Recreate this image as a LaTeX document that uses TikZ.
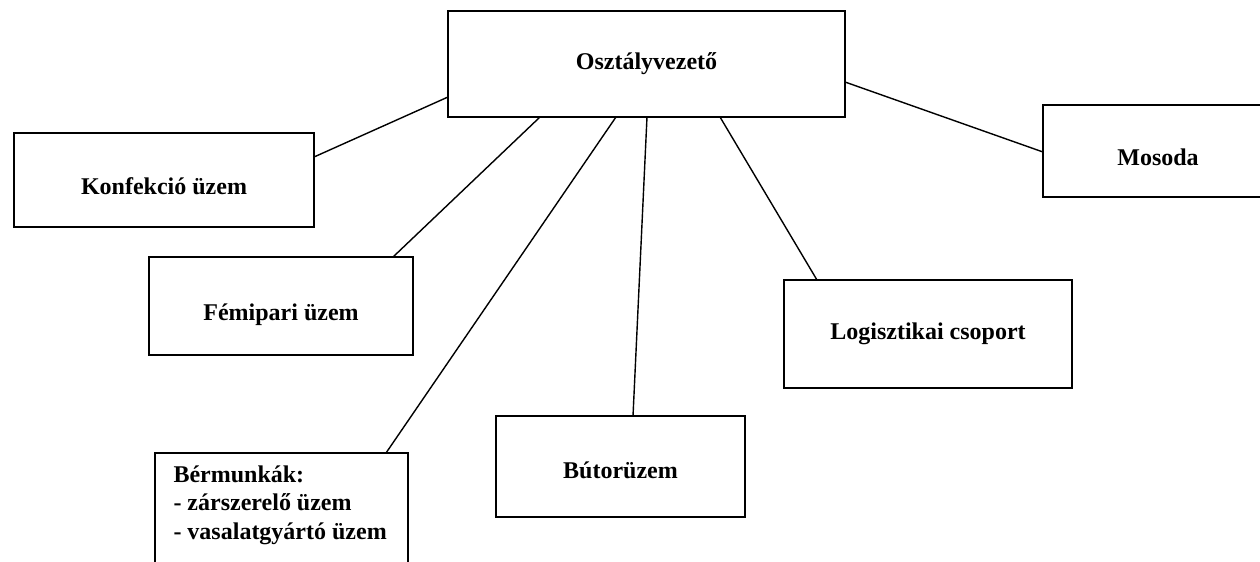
\documentclass[tikz,border=0pt]{standalone}
\usepackage{fontspec}
\setmainfont{Liberation Serif}
\usetikzlibrary{calc}

\tikzset{every picture/.style={line width=0.75pt}}
\tikzset{
  unitbox/.style={draw, line width=1.3pt, inner sep=0pt, outer sep=0pt,
    font=\fontsize{18}{21.5}\selectfont\bfseries},
  lowtext/.style={text height=#1, text depth=0pt},
  unitline/.style={line width=1.05pt}
}

\begin{document}
\begin{tikzpicture}[x=0.75pt,y=0.75pt,yscale=-1,xscale=1]
		%set diagram size: 1260 x 561
		\clip (0,0) rectangle (1260,561);
		
		%Shape: Rectangle [Osztályvezető]
		\node [unitbox, minimum width=297.75pt, minimum height=79.5pt] (osztaly) at (646.5,64) {Osztályvezető};
		%Shape: Rectangle [Konfekció üzem]
		\node [unitbox, lowtext=22pt, minimum width=225pt, minimum height=70.5pt] (konfekcio) at (164,180) {Konfekció üzem};
		%Shape: Rectangle [Mosoda]
		\node [unitbox, lowtext=22pt, minimum width=172.5pt, minimum height=69pt] (mosoda) at (1158,151) {Mosoda};
		%Shape: Rectangle [Fémipari üzem]
		\node [unitbox, lowtext=21pt, minimum width=198pt, minimum height=73.5pt] (femipari) at (281,306) {Fémipari üzem};
		%Shape: Rectangle [Logisztikai csoport]
		\node [unitbox, minimum width=216pt, minimum height=81pt] (logisztika) at (928,334) {Logisztikai csoport};
		%Shape: Rectangle [Bútorüzem]
		\node [unitbox, lowtext=18pt, minimum width=186.75pt, minimum height=75.75pt] (butor) at (620.5,466.5) {Bútorüzem};
		%Shape: Rectangle [Bérmunkák]
		\node [unitbox, minimum width=189.75pt, minimum height=97.5pt] (bermunka) at (281.5,518) {};
		% Text Node
		\node [anchor=north west, inner sep=0pt, align=left, font=\fontsize{18}{21.6}\selectfont\bfseries] (bermunkatext) at ($(bermunka.north west)+(18,12)$) {Bérmunkák:\\- zárszerelő üzem\\- vasalatgyártó üzem};
		
		%Straight Lines
		\draw [unitline] ($(osztaly.south west)+(0,-20)$) -- ($(konfekcio.north east)+(0,24)$) ;
		%Straight Lines
		\draw [unitline] ($(osztaly.south west)+(92,0)$) -- ($(femipari.north east)+(-20,0)$) ;
		%Straight Lines
		\draw [unitline] ($(osztaly.south west)+(168,0)$) -- ($(bermunka.north east)+(-22,0)$) ;
		%Straight Lines
		\draw [unitline] ($(osztaly.south west)+(199,0)$) -- ($(butor.north west)+(137,0)$) ;
		%Straight Lines
		\draw [unitline] ($(osztaly.south west)+(272,0)$) -- ($(logisztika.north west)+(33,0)$) ;
		%Straight Lines
		\draw [unitline] ($(osztaly.north east)+(0,71)$) -- ($(mosoda.north west)+(0,47)$) ;
\end{tikzpicture}
\end{document}
